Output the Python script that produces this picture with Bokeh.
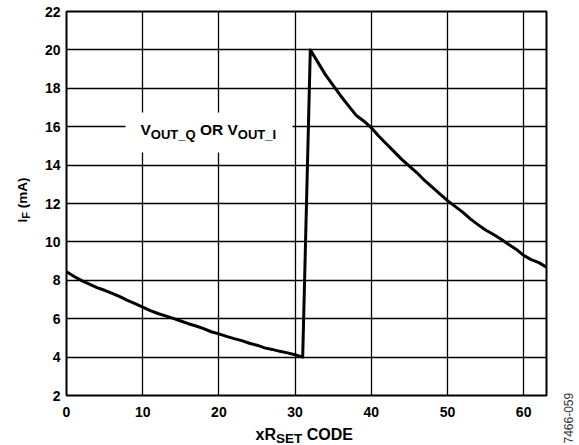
import math
from bokeh.plotting import figure
from bokeh.models import Label, BoxAnnotation, FixedTicker, Range1d
from bokeh.layouts import row, column
from bokeh.embed import file_html
from bokeh.resources import INLINE

# ---------------- data ----------------
codes_low = list(range(0, 32))
current_low = [8.45, 8.20, 7.98, 7.80, 7.62, 7.48, 7.32, 7.15, 6.95, 6.78,
               6.60, 6.42, 6.27, 6.15, 6.02, 5.88, 5.74, 5.62, 5.48, 5.32,
               5.21, 5.08, 4.96, 4.86, 4.72, 4.62, 4.48, 4.40, 4.30, 4.22,
               4.12, 4.00]
codes_high = list(range(32, 64))
current_high = [20.00, 19.35, 18.70, 18.15, 17.60, 17.10, 16.60, 16.30, 15.95, 15.50,
                15.10, 14.70, 14.30, 13.95, 13.60, 13.20, 12.85, 12.50, 12.15, 11.85,
                11.55, 11.20, 10.90, 10.62, 10.40, 10.15, 9.88, 9.62, 9.30, 9.08,
                8.92, 8.68]
x_ticks = [0, 10, 20, 30, 40, 50, 60]
y_ticks = [2, 4, 6, 8, 10, 12, 14, 16, 18, 20, 22]

codes = codes_low + codes_high
current = current_low + current_high

# ---------------- layout (page pixels) ----------------
FONT = "Liberation Sans"
TOTAL_W, TOTAL_H = 579, 445
LEFT_W, RIGHT_W = 36, 24
PW = TOTAL_W - LEFT_W - RIGHT_W      # 519
PH = 421
XL_H = TOTAL_H - PH                   # 24
FRAME_L, FRAME_T, FRAME_W, FRAME_H = 66, 11, 480, 384
BL = FRAME_L - LEFT_W
BT = FRAME_T
BR = PW - BL - FRAME_W
BB = PH - BT - FRAME_H
X0, X1, Y0, Y1 = 0, 63, 2, 22
MID = 0.35  # distance (em) from alphabetic baseline to the text's middle


def fx(px):
    return X0 + (px - FRAME_L) * (X1 - X0) / FRAME_W


def fy(py):
    return Y1 - (py - FRAME_T) * (Y1 - Y0) / FRAME_H


ARIAL_B = {' ': 278, '(': 333, ')': 333, 'm': 889, 'A': 722, 'I': 278, 'F': 611,
           'x': 556, 'R': 722, 'S': 667, 'E': 667, 'T': 611, 'C': 722, 'O': 778,
           'D': 722, 'V': 667, 'U': 722, '_': 556, 'Q': 778}


def tw(s, size):
    return sum(ARIAL_B.get(c, 600) for c in s) / 1000.0 * size


p = figure(width=PW, height=PH, x_range=(X0, X1), y_range=(Y0, Y1),
           output_backend="svg", toolbar_location=None,
           min_border_left=BL, min_border_right=BR, min_border_top=BT,
           min_border_bottom=BB)
p.title.visible = False
p.background_fill_color = "white"
p.border_fill_color = "white"
p.outline_line_color = "black"
p.outline_line_width = 2

for ax in (p.xaxis[0], p.yaxis[0]):
    ax.axis_line_color = None
    ax.major_tick_line_color = None
    ax.minor_tick_line_color = None
    ax.major_label_text_font = FONT
    ax.major_label_text_font_style = "bold"
    ax.major_label_text_font_size = "14px"
    ax.major_label_text_color = "black"
    ax.major_tick_out = 0
    ax.major_tick_in = 0
p.xaxis[0].major_label_standoff = 11
p.yaxis[0].major_label_standoff = 6

p.xaxis.ticker = FixedTicker(ticks=x_ticks)
p.yaxis.ticker = FixedTicker(ticks=y_ticks)
p.xgrid.ticker = FixedTicker(ticks=x_ticks)
p.ygrid.ticker = FixedTicker(ticks=y_ticks)
for g in (p.xgrid[0], p.ygrid[0]):
    g.grid_line_color = "black"
    g.grid_line_alpha = 1.0
    g.grid_line_width = 1.3

p.line(codes, current, line_color="black", line_width=3, line_join="round")

# white box behind the in-plot annotation text
p.add_layout(BoxAnnotation(left=fx(125), right=fx(292), top=fy(112), bottom=fy(152),
                           fill_color="white", fill_alpha=1.0, line_color=None))


def seq_labels(fig, pieces, x0, base0, to_x, to_y, rotated=False,
               bold=True, color="black"):
    """Place text pieces one after another; base0 is the alphabetic baseline
    (page px). Pieces are (text, size_px, shift_below_baseline_px)."""
    pos = 0.0
    for text, size, shift in pieces:
        lead = len(text) - len(text.lstrip(" "))
        pos += tw(" " * lead, size)
        t = text.strip(" ")
        if rotated:
            px = base0 + shift - MID * size
            py = x0 - pos
            ang = math.pi / 2
        else:
            px = x0 + pos
            py = base0 + shift - MID * size
            ang = 0.0
        fig.add_layout(Label(x=to_x(px), y=to_y(py), text=t, angle=ang,
                             text_font=FONT,
                             text_font_style="bold" if bold else "normal",
                             text_font_size=f"{size}px", text_color=color,
                             text_align="left", text_baseline="middle"))
        pos += tw(t, size)


seq_labels(p, [("V", 15.5, 0), ("OUT_Q", 13, 4), (" OR V", 15.5, 0), ("OUT_I", 13, 4)],
           140, 134.5, fx, fy)


def pixel_fig(w, h, x_lo, x_hi, bl=0, br=0):
    f = figure(width=w, height=h, x_range=Range1d(x_lo, x_hi), y_range=Range1d(h, 0),
               output_backend="svg", toolbar_location=None,
               x_axis_type=None, y_axis_type=None,
               min_border_left=bl, min_border_right=br, min_border_top=0,
               min_border_bottom=0)
    f.title.visible = False
    f.outline_line_color = None
    f.background_fill_color = "white"
    f.border_fill_color = "white"
    f.xgrid.visible = False
    f.ygrid.visible = False
    return f


# y-axis title (left strip: local = page)
fyl = pixel_fig(LEFT_W, TOTAL_H, 0, LEFT_W)
seq_labels(fyl, [("I", 13.5, 0), ("F", 11, 3), (" (mA)", 13.5, 0)], 222, 26.5,
           lambda v: v, lambda v: v, rotated=True)

# x-axis title (strip below the plot; its frame matches the plot frame horizontally)
fxl = pixel_fig(PW, XL_H, FRAME_L, FRAME_L + FRAME_W, bl=BL, br=BR)
seq_labels(fxl, [("xR", 16, 0), ("SET", 13.5, 3), (" CODE", 16, 0)], 255, 440,
           lambda v: v, lambda v: v - PH)

# figure id (right strip)
fr = pixel_fig(RIGHT_W, TOTAL_H, 0, RIGHT_W)
seq_labels(fr, [("7466-059", 12, 0)], 443, 572,
           lambda v: v - (TOTAL_W - RIGHT_W), lambda v: v,
           rotated=True, bold=False, color="#333333")

layout = row(fyl, column(p, fxl), fr)
open("out.html", "w").write(file_html(layout, INLINE))
